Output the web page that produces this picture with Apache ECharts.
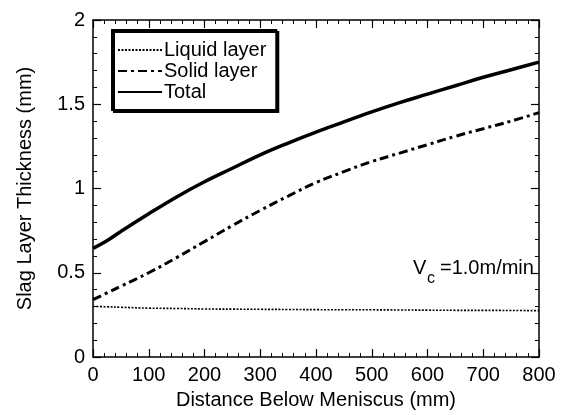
<!DOCTYPE html>
<html>
<head>
<meta charset="utf-8">
<script src="https://cdn.jsdelivr.net/npm/echarts@6/dist/echarts.min.js"></script>
<style>
  html, body { margin: 0; padding: 0; background: #fff; }
  #chart { width: 563px; height: 415px; }
</style>
</head>
<body>
<div id="chart"></div>
<script>
// Distance below meniscus (mm)
const distance = [0, 25, 50, 100, 150, 200, 250, 300, 350, 400, 450, 500, 550, 600, 650, 700, 750, 800];
// Slag layer thickness (mm)
const liquidLayer = [0.30, 0.298, 0.295, 0.29, 0.288, 0.285, 0.284, 0.283, 0.282, 0.281, 0.28, 0.28, 0.279, 0.278, 0.277, 0.277, 0.276, 0.275];
const solidLayer  = [0.34, 0.38, 0.42, 0.50, 0.59, 0.685, 0.78, 0.87, 0.955, 1.035, 1.10, 1.16, 1.21, 1.26, 1.31, 1.355, 1.40, 1.45];
const totalLayer  = [0.645, 0.69, 0.745, 0.85, 0.95, 1.04, 1.12, 1.20, 1.27, 1.335, 1.395, 1.455, 1.51, 1.56, 1.61, 1.66, 1.705, 1.75];

const seriesNames = ['Liquid layer', 'Solid layer', 'Total'];
const xTicks = { min: 0, max: 800, interval: 100 };
const yTicks = { min: 0, max: 2, interval: 0.5 };

const pairs = (ys) => distance.map((x, i) => [x, ys[i]]);
const FONT = 'Liberation Sans, Arial, Helvetica, sans-serif';

const chart = echarts.init(document.getElementById('chart'), null, { renderer: 'canvas' });

function axisBase(showLabels) {
  return {
    axisLine: { show: true, onZero: false, lineStyle: { color: '#000', width: 1.5 } },
    axisTick: { show: true, inside: true, length: 8, lineStyle: { color: '#000', width: 1.2 } },
    minorTick: { show: true, splitNumber: 5, length: 4, lineStyle: { color: '#000', width: 1 } },
    splitLine: { show: false },
    axisLabel: { show: showLabels, color: '#000', fontFamily: FONT, fontSize: 20 }
  };
}

const option = {
  animation: false,
  backgroundColor: '#fff',
  grid: { left: 93, right: 24, top: 20, bottom: 53 },
  xAxis: [
    Object.assign(axisBase(true), {
      type: 'value', position: 'bottom', min: xTicks.min, max: xTicks.max, interval: xTicks.interval,
      name: 'Distance Below Meniscus (mm)', nameLocation: 'middle', nameGap: 33,
      nameTextStyle: { color: '#000', fontFamily: FONT, fontSize: 20 }
    }),
    Object.assign(axisBase(false), {
      type: 'value', position: 'top', min: xTicks.min, max: xTicks.max, interval: xTicks.interval
    })
  ],
  yAxis: [
    Object.assign(axisBase(true), {
      type: 'value', position: 'left', min: yTicks.min, max: yTicks.max, interval: yTicks.interval,
      name: 'Slag Layer Thickness (mm)', nameLocation: 'middle', nameGap: 58,
      nameTextStyle: { color: '#000', fontFamily: FONT, fontSize: 20 }
    }),
    Object.assign(axisBase(false), {
      type: 'value', position: 'right', min: yTicks.min, max: yTicks.max, interval: yTicks.interval
    })
  ],
  legend: {
    orient: 'vertical', left: 112, top: 30,
    data: seriesNames,
    itemWidth: 44, itemHeight: 14, itemGap: 1,
    padding: [10, 10, 8, 5],
    backgroundColor: '#fff',
    borderColor: '#000', borderWidth: 2, borderRadius: 0,
    shadowColor: '#000', shadowBlur: 0, shadowOffsetX: 2, shadowOffsetY: 2,
    itemStyle: { opacity: 0 },
    textStyle: { color: '#000', fontFamily: FONT, fontSize: 20, lineHeight: 20, padding: [0, 0, 0, -3] }
  },
  series: [
    {
      name: seriesNames[0], type: 'line', data: pairs(liquidLayer), smooth: 0.4,
      symbol: 'none', lineStyle: { color: '#000', width: 1.6, type: [2, 1.5] }, z: 3
    },
    {
      name: seriesNames[1], type: 'line', data: pairs(solidLayer), smooth: 0.4,
      symbol: 'none', lineStyle: { color: '#000', width: 3, type: [9, 4, 3, 4] }, z: 3
    },
    {
      name: seriesNames[2], type: 'line', data: pairs(totalLayer), smooth: 0.4,
      symbol: 'none', lineStyle: { color: '#000', width: 3.5, type: 'solid' }, z: 3
    }
  ],
  graphic: [
    {
      type: 'group', left: 413, top: 258,
      children: [
        { type: 'text', left: 0, top: 4, style: { text: 'V', fill: '#000', font: '20px ' + FONT } },
        { type: 'text', left: 14, top: 17, style: { text: 'c', fill: '#000', font: '16px ' + FONT } },
        { type: 'text', left: 27, top: 4, style: { text: '=1.0m/min', fill: '#000', font: '20px ' + FONT } }
      ]
    }
  ]
};

chart.setOption(option);
</script>
</body>
</html>
